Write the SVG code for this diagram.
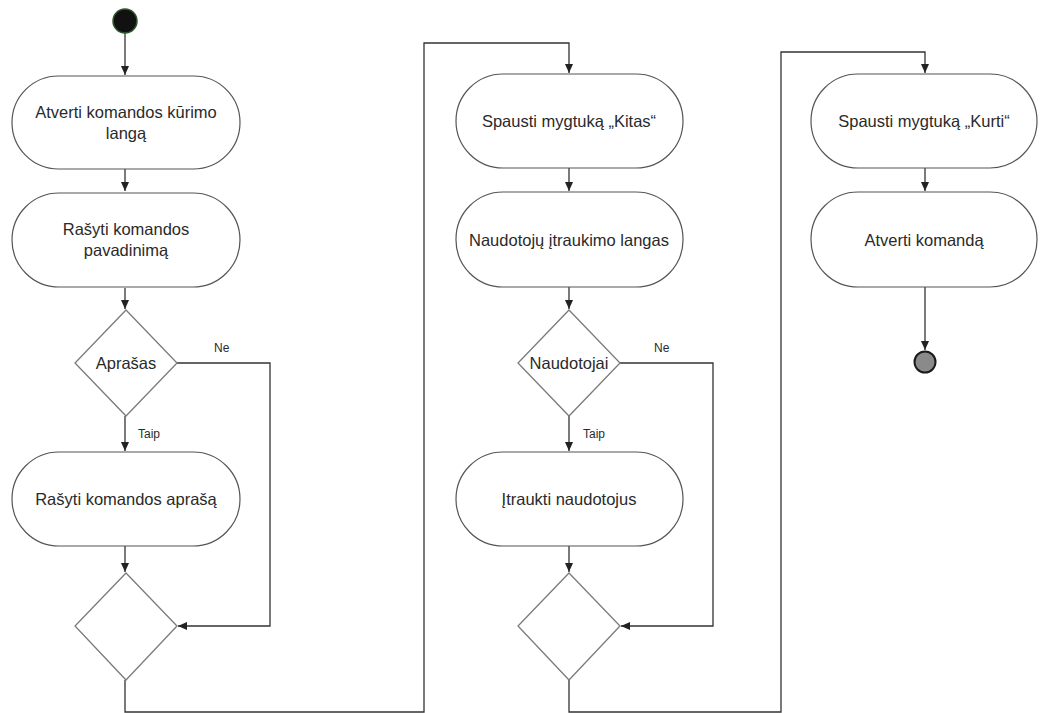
<svg xmlns="http://www.w3.org/2000/svg" width="1042" height="713" viewBox="0 0 1042 713">
<style>
.box{fill:#fff;stroke:#555;stroke-width:1.2}
.dia{fill:#fff;stroke:#7a7a7a;stroke-width:1.3}
.t{font-family:"Liberation Sans",Arial,sans-serif;font-size:16.5px;fill:#2a2a2a;text-anchor:middle}
.lbl{font-family:"Liberation Sans",Arial,sans-serif;font-size:12px;fill:#2a2a2a}
.c{fill:none;stroke:#333;stroke-width:1.3}
</style>
<defs>
<marker id="ar" markerWidth="10" markerHeight="10" refX="9" refY="5" orient="auto" markerUnits="userSpaceOnUse">
<path d="M0,1 L9,5 L0,9 Z" fill="#222"/>
</marker>
</defs>
<g id="connectors">
<path class="c" d="M125,33 V75" marker-end="url(#ar)"/>
<path class="c" d="M125,169 V191" marker-end="url(#ar)"/>
<path class="c" d="M125,288 V309" marker-end="url(#ar)"/>
<path class="c" d="M125,416 V451" marker-end="url(#ar)"/>
<path class="c" d="M125,546 V572" marker-end="url(#ar)"/>
<path class="c" d="M177,363 H270 V626 H178" marker-end="url(#ar)"/>
<path class="c" d="M125,680 V712 H424 V43 H569 V73" marker-end="url(#ar)"/>
<path class="c" d="M569,168 V191" marker-end="url(#ar)"/>
<path class="c" d="M569,287 V309" marker-end="url(#ar)"/>
<path class="c" d="M569,416 V451" marker-end="url(#ar)"/>
<path class="c" d="M569,546 V572" marker-end="url(#ar)"/>
<path class="c" d="M620,363 H713 V626 H621" marker-end="url(#ar)"/>
<path class="c" d="M569,680 V712 H781 V52 H925 V73" marker-end="url(#ar)"/>
<path class="c" d="M925,168 V191" marker-end="url(#ar)"/>
<path class="c" d="M925,287 V350" marker-end="url(#ar)"/>
<text class="lbl" x="214" y="352">Ne</text>
<text class="lbl" x="138" y="438">Taip</text>
<text class="lbl" x="654" y="352">Ne</text>
<text class="lbl" x="583" y="438">Taip</text>
</g>
<g id="start"><circle cx="125" cy="21" r="12" fill="#111" stroke="#2d5a2d" stroke-width="1.5"/></g>
<g id="n1"><rect class="box" x="12" y="76" width="228" height="93" rx="46.5"/><text class="t" x="126" y="118">Atverti komandos kūrimo</text><text class="t" x="126" y="139">langą</text></g>
<g id="n2"><rect class="box" x="12" y="193" width="228" height="94" rx="47"/><text class="t" x="126" y="235">Rašyti komandos</text><text class="t" x="126" y="256">pavadinimą</text></g>
<g id="d1"><polygon class="dia" points="126,310 177,363 126,416 75,363"/><text class="t" x="126" y="369">Aprašas</text></g>
<g id="n3"><rect class="box" x="12" y="452" width="228" height="94" rx="47"/><text class="t" x="126" y="505">Rašyti komandos aprašą</text></g>
<g id="d2"><polygon class="dia" points="126,573 177,626 126,680 75,626"/></g>
<g id="n4"><rect class="box" x="456" y="74" width="227" height="94" rx="47"/><text class="t" x="569" y="127">Spausti mygtuką „Kitas“</text></g>
<g id="n5"><rect class="box" x="456" y="192" width="227" height="95" rx="47"/><text class="t" x="569" y="246">Naudotojų įtraukimo langas</text></g>
<g id="d3"><polygon class="dia" points="569,310 620,363 569,416 518,363"/><text class="t" x="569" y="369">Naudotojai</text></g>
<g id="n6"><rect class="box" x="456" y="452" width="227" height="94" rx="47"/><text class="t" x="569" y="505">Įtraukti naudotojus</text></g>
<g id="d4"><polygon class="dia" points="569,573 620,626 569,680 518,626"/></g>
<g id="n7"><rect class="box" x="811" y="74" width="226" height="94" rx="47"/><text class="t" x="924" y="127">Spausti mygtuką „Kurti“</text></g>
<g id="n8"><rect class="box" x="811" y="192" width="226" height="95" rx="47"/><text class="t" x="924" y="246">Atverti komandą</text></g>
<g id="end"><circle cx="925" cy="362" r="10.5" fill="#8a8a8a" stroke="#1a1a1a" stroke-width="2"/></g>
</svg>
